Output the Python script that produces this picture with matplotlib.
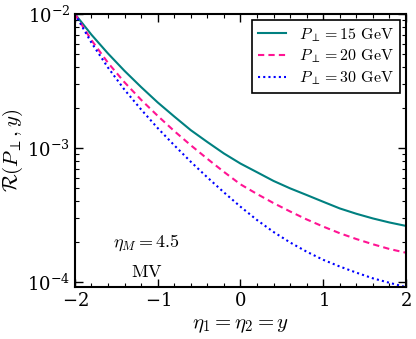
import matplotlib
matplotlib.use("Agg")
import matplotlib.pyplot as plt
from matplotlib.ticker import LogLocator, MultipleLocator, NullFormatter

plt.rcParams["mathtext.fontset"] = "cm"
plt.rcParams["font.family"] = "serif"
plt.rcParams["font.serif"] = ["DejaVu Serif"]
plt.rcParams["axes.formatter.use_mathtext"] = True

# ---------- dados ----------
y_vals = [-2.0, -1.8, -1.6, -1.4, -1.2, -1.0, -0.8, -0.6, -0.4, -0.2, 0.0,
          0.2, 0.4, 0.6, 0.8, 1.0, 1.2, 1.4, 1.6, 1.8, 2.0]
R_15 = [1.00e-2, 7.00e-3, 5.07e-3, 3.76e-3, 2.85e-3, 2.19e-3, 1.72e-3, 1.36e-3,
        1.11e-3, 9.12e-4, 7.67e-4, 6.61e-4, 5.69e-4, 5.01e-4, 4.47e-4, 3.98e-4,
        3.55e-4, 3.24e-4, 2.99e-4, 2.79e-4, 2.63e-4]
R_20 = [1.00e-2, 6.38e-3, 4.32e-3, 3.09e-3, 2.29e-3, 1.74e-3, 1.34e-3, 1.05e-3,
        8.32e-4, 6.65e-4, 5.37e-4, 4.55e-4, 3.89e-4, 3.37e-4, 2.94e-4, 2.60e-4,
        2.32e-4, 2.10e-4, 1.92e-4, 1.77e-4, 1.66e-4]
R_30 = [1.00e-2, 6.10e-3, 3.98e-3, 2.72e-3, 1.94e-3, 1.41e-3, 1.05e-3, 7.91e-4,
        6.05e-4, 4.68e-4, 3.66e-4, 2.91e-4, 2.37e-4, 1.98e-4, 1.69e-4, 1.47e-4,
        1.31e-4, 1.18e-4, 1.07e-4, 9.91e-5, 9.20e-5]

labels = [r"$P_\perp = 15\ \mathrm{GeV}$", r"$P_\perp = 20\ \mathrm{GeV}$",
          r"$P_\perp = 30\ \mathrm{GeV}$"]

fig = plt.figure(figsize=(4.16, 3.39), dpi=100)
ax = fig.add_axes([0.18, 0.153, 0.796, 0.806])

ax.plot(y_vals, R_15, color="#008080", lw=1.5, label=labels[0])
ax.plot(y_vals, R_20, color="#ff1493", lw=1.5, ls=(0, (3, 2)), label=labels[1])
ax.plot(y_vals, R_30, color="#0000ff", lw=1.5, ls=(0, (1, 1.5)), label=labels[2])

ax.set_yscale("log")
ax.set_xlim(-2, 2)
ax.set_ylim(9.2e-5, 1e-2)
ax.xaxis.set_major_locator(MultipleLocator(1))
ax.xaxis.set_minor_locator(MultipleLocator(0.2))
ax.yaxis.set_major_locator(LogLocator(base=10, numticks=10))
ax.yaxis.set_minor_locator(LogLocator(base=10, subs=range(2, 10), numticks=10))
ax.yaxis.set_minor_formatter(NullFormatter())
ax.tick_params(which="both", direction="in", top=True, right=True, labelsize=13)
ax.tick_params(which="major", length=6, width=1)
ax.tick_params(which="minor", length=3, width=0.8)
for s in ax.spines.values():
    s.set_linewidth(1.5)

ax.set_xlabel(r"$\eta_1 = \eta_2 = y$", fontsize=15)
ax.set_ylabel(r"$\mathcal{R}(P_\perp, y)$", fontsize=15)
ax.yaxis.set_label_coords(-0.15, 0.5)

ax.text(-1.13, 1.96e-4, r"$\eta_M = 4.5$", fontsize=13, ha="center", va="center")
ax.text(-1.13, 1.19e-4, r"$\mathrm{MV}$", fontsize=13, ha="center", va="center")

leg = ax.legend(loc="upper right", fontsize=11.5, fancybox=False, framealpha=1,
                edgecolor="black", borderaxespad=0.4, handlelength=1.8,
                labelspacing=0.25, borderpad=0.35)
leg.get_frame().set_linewidth(1.2)

fig.savefig("out.png", dpi=100)
